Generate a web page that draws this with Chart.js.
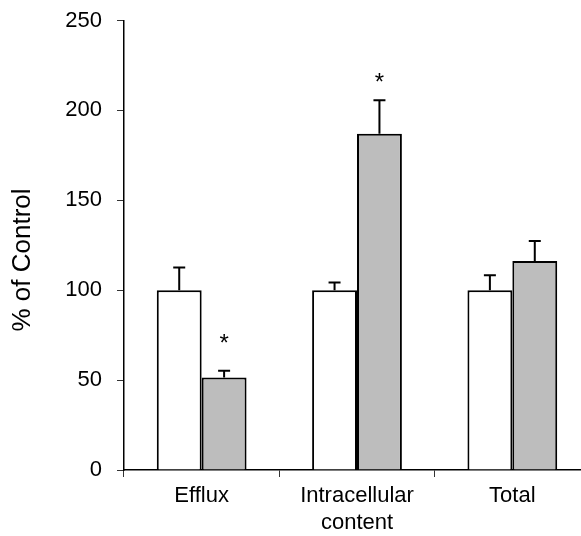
<!DOCTYPE html>
<html>
<head>
<meta charset="utf-8">
<script src="https://cdn.jsdelivr.net/npm/chart.js@4"></script>
<style>
  html, body { margin: 0; padding: 0; background: #fff; overflow: hidden; }
  #wrap { width: 581px; height: 536px; overflow: hidden; }
</style>
</head>
<body>
<div id="wrap"><canvas id="chart" width="590" height="536"></canvas></div>
<script>
// data
const categories = ["Efflux", ["Intracellular", "content"], "Total"];
const controlValues = [100, 100, 100];
const controlErrors = [12.6, 4.3, 8.3];
const treatedValues = [51.5, 187, 116.3];
const treatedErrors = [3.7, 18.6, 11.1];
// where the significance asterisks sit (y value), null = none
const starAt = [74, 219, null];
const yTicks = [0, 50, 100, 150, 200, 250];

const tickFont = { family: "'Liberation Sans', Arial, sans-serif", size: 22 };

// error bars drawn upward from each bar top
const errorBars = {
  id: "errorBars",
  afterDatasetsDraw(chart) {
    const ctx = chart.ctx;
    const y = chart.scales.y;
    const errs = [controlErrors, treatedErrors];
    ctx.save();
    ctx.strokeStyle = "#000";
    ctx.lineWidth = 2;
    chart.data.datasets.forEach((ds, i) => {
      chart.getDatasetMeta(i).data.forEach((bar, j) => {
        const top = y.getPixelForValue(ds.data[j] + errs[i][j]);
        ctx.beginPath();
        ctx.moveTo(bar.x, bar.y);
        ctx.lineTo(bar.x, top);
        ctx.moveTo(bar.x - 6, top);
        ctx.lineTo(bar.x + 6, top);
        ctx.stroke();
      });
    });
    ctx.restore();
  }
};

// asterisks + rotated y title
const extras = {
  id: "extras",
  afterDraw(chart) {
    const ctx = chart.ctx;
    const y = chart.scales.y;
    const meta = chart.getDatasetMeta(1);
    ctx.save();
    ctx.fillStyle = "#000";
    ctx.font = "24px 'Liberation Sans', Arial, sans-serif";
    ctx.textAlign = "center";
    ctx.textBaseline = "alphabetic";
    starAt.forEach((v, j) => {
      if (v === null) return;
      ctx.fillText("*", meta.data[j].x, y.getPixelForValue(v) + 14);
    });
    ctx.translate(23, 260);
    ctx.rotate(-Math.PI / 2);
    ctx.font = "26px 'Liberation Sans', Arial, sans-serif";
    ctx.textBaseline = "middle";
    ctx.fillText("% of Control", 0, 0);
    ctx.restore();
  }
};

new Chart(document.getElementById("chart"), {
  type: "bar",
  data: {
    labels: categories,
    datasets: [
      {
        label: "Control",
        data: controlValues,
        backgroundColor: "#ffffff",
        borderColor: "#000",
        borderWidth: 2,
        barPercentage: 1.0,
        categoryPercentage: 0.578
      },
      {
        label: "Treated",
        data: treatedValues,
        backgroundColor: "#bdbdbd",
        borderColor: "#000",
        borderWidth: 2,
        barPercentage: 1.0,
        categoryPercentage: 0.578
      }
    ]
  },
  options: {
    responsive: false,
    animation: false,
    layout: { padding: { top: 20, right: 0, bottom: 0, left: 0 } },
    plugins: { legend: { display: false }, tooltip: { enabled: false } },
    scales: {
      x: {
        grid: { display: true, drawOnChartArea: false, offset: true, tickLength: 7, color: "#333" },
        border: { color: "#000", width: 1.5 },
        ticks: { color: "#000", font: tickFont, padding: 6 },
        afterFit(scale) { scale.height = 66; }
      },
      y: {
        min: 0,
        max: 250,
        afterBuildTicks(scale) { scale.ticks = yTicks.map(v => ({ value: v })); },
        grid: { display: true, drawOnChartArea: false, tickLength: 7, color: "#333" },
        border: { color: "#000", width: 1.5 },
        ticks: { color: "#000", font: { ...tickFont, lineHeight: 0.5 }, padding: 15 },
        afterFit(scale) { scale.width = 124; }
      }
    }
  },
  plugins: [errorBars, extras]
});
</script>
</body>
</html>
